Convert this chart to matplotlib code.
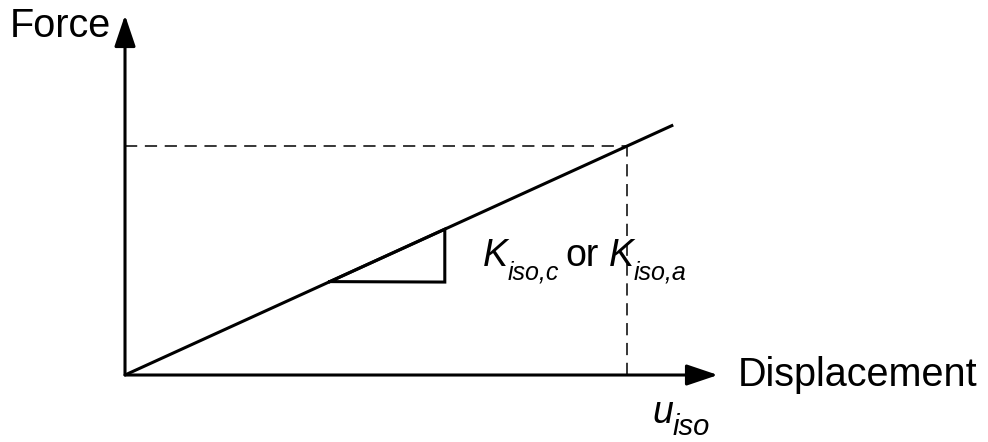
import matplotlib
matplotlib.use("Agg")
import matplotlib.pyplot as plt

plt.rcParams['font.family'] = ['Liberation Sans', 'DejaVu Sans']

# curva fuerza-desplazamiento (unidades normalizadas: u_iso = 1, F(u_iso) = 1)
disp = [0.0, 1.092]
force = [0.0, 1.092]
# punto de diseno
u_iso = 1.0
f_iso = 1.0
# triangulo de pendiente
tri_x = [0.408, 0.637, 0.637, 0.408]
tri_y = [0.408, 0.406, 0.637, 0.408]
# largo de los ejes
x_max = 1.181
y_max = 1.572

fig = plt.figure(figsize=(9.88, 4.42), dpi=100)
ax = fig.add_axes([0, 0, 1, 1])
ax.set_xlim(-0.249, 1.719)
ax.set_ylim(-0.2926, 1.638)
ax.axis('off')


def con_sub(x, y, base, sub, size=27, subsize=18, base_artist=None, dx=0, drop=4):
    # texto base en cursiva con subindice mas abajo
    if base_artist is None:
        t = ax.text(x, y, base, fontsize=size, style='italic', va='baseline')
    else:
        t = ax.annotate(base, xy=(1, 0), xycoords=base_artist, xytext=(dx, 0),
                        textcoords='offset points', fontsize=size,
                        style='italic', va='bottom')
    s = ax.annotate(sub, xy=(1, 0), xycoords=t, xytext=(0, -drop),
                    textcoords='offset points', fontsize=subsize,
                    style='italic', va='baseline')
    return t, s


# ejes con flecha
flecha = dict(arrowstyle='-|>,head_length=0.8,head_width=0.27', lw=2.2,
              color='k', mutation_scale=24, shrinkA=0, shrinkB=0)
ax.annotate('', xy=(0, y_max), xytext=(0, 0), arrowprops=flecha)
ax.annotate('', xy=(x_max, 0), xytext=(0, 0), arrowprops=flecha)

# lineas punteadas
ax.plot([0, u_iso], [f_iso, f_iso], 'k', lw=1.1, dashes=(8, 5))
ax.plot([u_iso, u_iso], [0, f_iso], 'k', lw=1.1, dashes=(8, 5))

# curva y triangulo
ax.plot(disp, force, 'k', lw=2.2, solid_capstyle='butt')
ax.plot(tri_x, tri_y, 'k', lw=2.2, solid_joinstyle='miter')

# textos
ax.text(-0.229, 1.476, 'Force', fontsize=28.5, ha='left', va='baseline')
ax.text(1.22, -0.048, 'Displacement', fontsize=28.5, ha='left', va='baseline')

k1, s1 = con_sub(0.712, 0.476, 'K', 'iso,c')
o = ax.annotate('or', xy=(1, 0), xycoords=(s1, k1), xytext=(5, 0),
                textcoords='offset points', fontsize=27, va='bottom')
k2, s2 = con_sub(0, 0, 'K', 'iso,a', base_artist=o, dx=7)

con_sub(1.05, -0.21, 'u', 'iso', size=27, subsize=21, drop=3)

fig.savefig('out.png', dpi=100)
